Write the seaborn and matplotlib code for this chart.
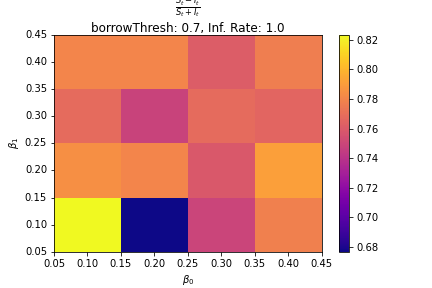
import numpy as np
import matplotlib
matplotlib.use("Agg")
import matplotlib.pyplot as plt
import seaborn as sns

# grid centres
beta0 = [0.1, 0.2, 0.3, 0.4]
beta1 = [0.1, 0.2, 0.3, 0.4]
tick_vals = [0.05, 0.10, 0.15, 0.20, 0.25, 0.30, 0.35, 0.40, 0.45]

# rows follow beta1 (bottom to top), columns follow beta0
ratio = [
    [0.8236, 0.6764, 0.749, 0.778],
    [0.784, 0.780, 0.759, 0.791],
    [0.768, 0.748, 0.768, 0.765],
    [0.780, 0.780, 0.761, 0.777],
]

fig, ax = plt.subplots(figsize=(6, 4), dpi=72)
fig.subplots_adjust(bottom=0.125)
sns.heatmap(np.array(ratio), cmap="plasma", ax=ax, square=False)
ax.invert_yaxis()

# continuous-looking axes: cell edges every 0.1, ticks every 0.05
step = beta0[1] - beta0[0]
pos = [(v - (beta0[0] - step / 2)) / step for v in tick_vals]
ax.set_xticks(pos)
ax.set_xticklabels([f"{v:.2f}" for v in tick_vals], rotation=0)
ax.set_yticks(pos)
ax.set_yticklabels([f"{v:.2f}" for v in tick_vals], rotation=0)
ax.tick_params(length=3.5, width=0.8, color="black")

for s in ax.spines.values():
    s.set_visible(True)
    s.set_linewidth(0.8)
cb = ax.collections[0].colorbar
cb.outline.set_visible(True)
cb.outline.set_linewidth(0.8)

ax.set_xlabel(r"$\beta_0$")
ax.set_ylabel(r"$\beta_1$")
ax.set_title(r"$\frac{S_t - I_t}{S_t + I_t}$" + "\nborrowThresh: 0.7, Inf. Rate: 1.0", pad=2)

fig.savefig("out.png")
